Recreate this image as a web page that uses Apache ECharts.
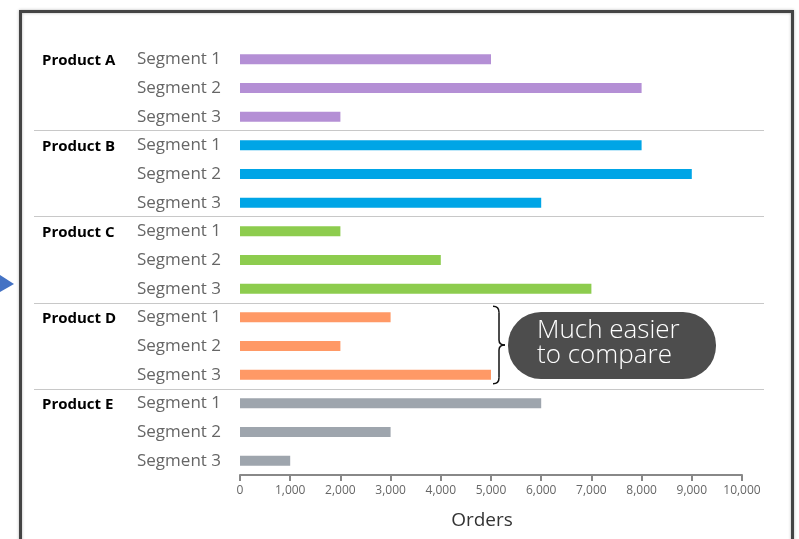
<!DOCTYPE html>
<html>
<head>
<meta charset="utf-8">
<script src="https://cdn.jsdelivr.net/npm/echarts@6/dist/echarts.min.js"></script>
<style>
  html, body { margin: 0; padding: 0; background: #fff; }
  #chart { width: 799px; height: 539px; }
</style>
</head>
<body>
<div id="chart"></div>
<script>
// data
const products = ['Product A', 'Product B', 'Product C', 'Product D', 'Product E']
const segments = ['Segment 1', 'Segment 2', 'Segment 3']
const orders = [
  [5000, 8000, 2000],
  [8000, 9000, 6000],
  [2000, 4000, 7000],
  [3000, 2000, 5000],
  [6000, 3000, 1000],
]
const colors = ['#b48fd5', '#00a5e6', '#8dcc4e', '#ff9966', '#9ea5ad']
const xTicks = [0, 1000, 2000, 3000, 4000, 5000, 6000, 7000, 8000, 9000, 10000]

// one category per product/segment row
let cats = []
let rows = []
for (let p = 0; p < products.length; p++) {
  for (let s = 0; s < segments.length; s++) {
    cats.push(p + '|' + s)
    rows.push({ value: orders[p][s], itemStyle: { color: colors[p] } })
  }
}

const chart = echarts.init(document.getElementById('chart'))

chart.setOption({
  animation: false,
  textStyle: { fontFamily: 'Open Sans' },
  grid: { left: 240, right: 57, top: 45, height: 430 },
  xAxis: {
    type: 'value',
    min: xTicks[0],
    max: xTicks[xTicks.length - 1],
    interval: 1000,
    name: 'Orders',
    nameLocation: 'middle',
    nameGap: 36,
    nameTextStyle: { fontSize: 19, color: '#333', padding: [0, 18, 0, 0] },
    axisLine: { show: true, lineStyle: { color: '#888', width: 2 } },
    axisTick: { show: true, length: 6, lineStyle: { color: '#888', width: 2 } },
    axisLabel: {
      fontSize: 12, color: '#666', margin: 10,
      formatter: v => v.toLocaleString('en-US')
    },
    splitLine: { show: false },
  },
  yAxis: {
    type: 'category',
    inverse: true,
    data: cats,
    axisLine: { show: false },
    axisTick: { show: false },
    axisLabel: {
      margin: 19,
      formatter: (v) => {
        const [p, s] = v.split('|').map(Number)
        return '{p|' + (s === 0 ? products[p] : '') + '}{s|' + segments[s] + '}'
      },
      rich: {
        p: { width: 94, align: 'left', fontSize: 15, fontWeight: 'bold', color: '#000', padding: [2, 0, 0, 0] },
        s: { width: 85, align: 'right', fontSize: 17, color: '#666' },
      }
    },
  },
  series: [{
    type: 'bar',
    data: rows,
    barWidth: 10,
    silent: true,
  }]
})

// group separators, brace and callout placed from the chart's own scales
const band = chart.convertToPixel({ yAxisIndex: 0 }, 1) - chart.convertToPixel({ yAxisIndex: 0 }, 0)
let g = []
for (let p = 1; p < products.length; p++) {
  const y = Math.floor(chart.convertToPixel({ yAxisIndex: 0 }, p * 3) - band / 2) + 0.5
  g.push({ type: 'line', shape: { x1: 34, y1: y, x2: 764, y2: y }, style: { stroke: '#c8c8c8', lineWidth: 1 } })
}

const dTop = chart.convertToPixel({ yAxisIndex: 0 }, 9) - 11
const dBot = chart.convertToPixel({ yAxisIndex: 0 }, 11) + 9
const dMid = (dTop + dBot) / 2
const bx = chart.convertToPixel({ xAxisIndex: 0 }, 5000) + 2
const braceStyle = { fill: null, stroke: '#111', lineWidth: 1.5 }
const cx = bx + 6
g.push({ type: 'bezierCurve', shape: { x1: bx, y1: dTop, cpx1: cx, cpy1: dTop, x2: cx, y2: dTop + 6 }, style: braceStyle })
g.push({ type: 'line', shape: { x1: cx, y1: dTop + 6, x2: cx, y2: dMid - 5 }, style: braceStyle })
g.push({ type: 'bezierCurve', shape: { x1: cx, y1: dMid - 5, cpx1: cx, cpy1: dMid, x2: cx + 6, y2: dMid }, style: braceStyle })
g.push({ type: 'bezierCurve', shape: { x1: cx + 6, y1: dMid, cpx1: cx, cpy1: dMid, x2: cx, y2: dMid + 5 }, style: braceStyle })
g.push({ type: 'line', shape: { x1: cx, y1: dMid + 5, x2: cx, y2: dBot - 6 }, style: braceStyle })
g.push({ type: 'bezierCurve', shape: { x1: cx, y1: dBot - 6, cpx1: cx, cpy1: dBot, x2: bx, y2: dBot }, style: braceStyle })

g.push({
  type: 'rect',
  shape: { x: bx + 15, y: dMid - 33, width: 208, height: 67, r: 33 },
  style: { fill: '#4d4d4d' }
})
g.push({
  type: 'text',
  x: bx + 44, y: dMid - 27,
  style: {
    text: 'Much easier\nto compare',
    fill: '#fff', fontSize: 26, lineHeight: 25, fontWeight: 300, fontFamily: 'Open Sans'
  }
})

// page frame and pointer
g.push({
  type: 'rect',
  shape: { x: 20.5, y: 11.5, width: 772, height: 600 },
  style: { fill: null, stroke: '#444', lineWidth: 3, shadowBlur: 3, shadowColor: 'rgba(0,0,0,0.3)' }
})
g.push({
  type: 'polygon',
  shape: { points: [[0, 275], [14, 284], [0, 292]] },
  style: { fill: '#4472c4' }
})

chart.setOption({ graphic: g })
</script>
</body>
</html>
